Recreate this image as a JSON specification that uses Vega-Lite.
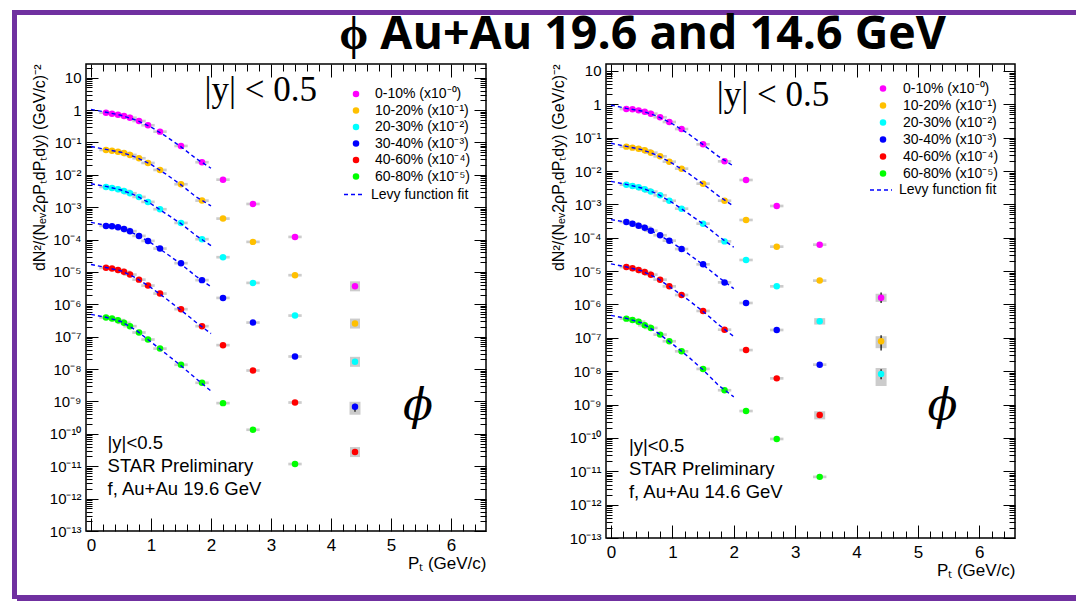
{
"$schema": "https://vega.github.io/schema/vega-lite/v6.json",
"padding": {"left": 12, "top": 10, "right": 0, "bottom": 0},
"background": "white",
"config": {
  "font": "Liberation Sans",
  "view": {"stroke": null},
  "axis": {"domain": false, "grid": false, "tickColor": "black", "tickWidth": 1, "labelColor": "black", "titleColor": "black", "labelFont": "Liberation Sans", "titleFont": "Liberation Sans", "titleFontWeight": "normal", "labelOverlap": false, "labelFlush": false},
  "legend": {"labelFont": "Liberation Sans", "labelColor": "black", "labelFontSize": 14, "padding": 0}
},
"datasets": {
"p19": [
{"pt":0.25,"y":0.83,"c":"0-10% (x10⁻⁰)"},{"pt":0.35,"y":0.774,"c":"0-10% (x10⁻⁰)"},{"pt":0.45,"y":0.72,"c":"0-10% (x10⁻⁰)"},{"pt":0.55,"y":0.66,"c":"0-10% (x10⁻⁰)"},{"pt":0.65,"y":0.58,"c":"0-10% (x10⁻⁰)"},{"pt":0.8,"y":0.46,"c":"0-10% (x10⁻⁰)"},{"pt":0.95,"y":0.34,"c":"0-10% (x10⁻⁰)"},{"pt":1.15,"y":0.216,"c":"0-10% (x10⁻⁰)"},{"pt":1.5,"y":0.078,"c":"0-10% (x10⁻⁰)"},{"pt":1.85,"y":0.0245,"c":"0-10% (x10⁻⁰)"},{"pt":2.2,"y":0.0071,"c":"0-10% (x10⁻⁰)"},{"pt":2.7,"y":0.00126,"c":"0-10% (x10⁻⁰)"},{"pt":3.4,"y":0.000121,"c":"0-10% (x10⁻⁰)"},{"pt":4.4,"y":3.6e-6,"c":"0-10% (x10⁻⁰)"},
{"pt":0.25,"y":0.0587,"c":"10-20% (x10⁻¹)"},{"pt":0.35,"y":0.0558,"c":"10-20% (x10⁻¹)"},{"pt":0.45,"y":0.052,"c":"10-20% (x10⁻¹)"},{"pt":0.55,"y":0.0474,"c":"10-20% (x10⁻¹)"},{"pt":0.65,"y":0.0411,"c":"10-20% (x10⁻¹)"},{"pt":0.8,"y":0.0325,"c":"10-20% (x10⁻¹)"},{"pt":0.95,"y":0.0233,"c":"10-20% (x10⁻¹)"},{"pt":1.15,"y":0.01416,"c":"10-20% (x10⁻¹)"},{"pt":1.5,"y":0.00513,"c":"10-20% (x10⁻¹)"},{"pt":1.85,"y":0.0016,"c":"10-20% (x10⁻¹)"},{"pt":2.2,"y":0.000445,"c":"10-20% (x10⁻¹)"},{"pt":2.7,"y":8.5e-5,"c":"10-20% (x10⁻¹)"},{"pt":3.4,"y":7.96e-6,"c":"10-20% (x10⁻¹)"},{"pt":4.4,"y":2.55e-7,"c":"10-20% (x10⁻¹)"},
{"pt":0.25,"y":0.00423,"c":"20-30% (x10⁻²)"},{"pt":0.35,"y":0.00394,"c":"20-30% (x10⁻²)"},{"pt":0.45,"y":0.00359,"c":"20-30% (x10⁻²)"},{"pt":0.55,"y":0.00318,"c":"20-30% (x10⁻²)"},{"pt":0.65,"y":0.0027,"c":"20-30% (x10⁻²)"},{"pt":0.8,"y":0.00208,"c":"20-30% (x10⁻²)"},{"pt":0.95,"y":0.00146,"c":"20-30% (x10⁻²)"},{"pt":1.15,"y":0.000867,"c":"20-30% (x10⁻²)"},{"pt":1.5,"y":0.000327,"c":"20-30% (x10⁻²)"},{"pt":1.85,"y":0.000103,"c":"20-30% (x10⁻²)"},{"pt":2.2,"y":2.86e-5,"c":"20-30% (x10⁻²)"},{"pt":2.7,"y":4.6e-6,"c":"20-30% (x10⁻²)"},{"pt":3.4,"y":4.5e-7,"c":"20-30% (x10⁻²)"},{"pt":4.4,"y":1.68e-8,"c":"20-30% (x10⁻²)"},
{"pt":0.25,"y":0.000265,"c":"30-40% (x10⁻³)"},{"pt":0.35,"y":0.000258,"c":"30-40% (x10⁻³)"},{"pt":0.45,"y":0.000241,"c":"30-40% (x10⁻³)"},{"pt":0.55,"y":0.000214,"c":"30-40% (x10⁻³)"},{"pt":0.65,"y":0.000182,"c":"30-40% (x10⁻³)"},{"pt":0.8,"y":0.00013,"c":"30-40% (x10⁻³)"},{"pt":0.95,"y":9.1e-5,"c":"30-40% (x10⁻³)"},{"pt":1.15,"y":5.28e-5,"c":"30-40% (x10⁻³)"},{"pt":1.5,"y":1.87e-5,"c":"30-40% (x10⁻³)"},{"pt":1.85,"y":5.6e-6,"c":"30-40% (x10⁻³)"},{"pt":2.2,"y":1.58e-6,"c":"30-40% (x10⁻³)"},{"pt":2.7,"y":2.74e-7,"c":"30-40% (x10⁻³)"},{"pt":3.4,"y":2.45e-8,"c":"30-40% (x10⁻³)"},{"pt":4.4,"y":6.85e-10,"c":"30-40% (x10⁻³)","slo":3.9e-10,"shi":9.8e-10,"lo":4.8e-10,"hi":8.5e-10},
{"pt":0.25,"y":1.34e-5,"c":"40-60% (x10⁻⁴)"},{"pt":0.35,"y":1.27e-5,"c":"40-60% (x10⁻⁴)"},{"pt":0.45,"y":1.16e-5,"c":"40-60% (x10⁻⁴)"},{"pt":0.55,"y":1.01e-5,"c":"40-60% (x10⁻⁴)"},{"pt":0.65,"y":8.3e-6,"c":"40-60% (x10⁻⁴)"},{"pt":0.8,"y":5.8e-6,"c":"40-60% (x10⁻⁴)"},{"pt":0.95,"y":3.8e-6,"c":"40-60% (x10⁻⁴)"},{"pt":1.15,"y":2.15e-6,"c":"40-60% (x10⁻⁴)"},{"pt":1.5,"y":7.1e-7,"c":"40-60% (x10⁻⁴)"},{"pt":1.85,"y":2.12e-7,"c":"40-60% (x10⁻⁴)"},{"pt":2.2,"y":5.5e-8,"c":"40-60% (x10⁻⁴)"},{"pt":2.7,"y":9.05e-9,"c":"40-60% (x10⁻⁴)"},{"pt":3.4,"y":9.3e-10,"c":"40-60% (x10⁻⁴)"},{"pt":4.4,"y":2.74e-11,"c":"40-60% (x10⁻⁴)"},
{"pt":0.25,"y":3.92e-7,"c":"60-80% (x10⁻⁵)"},{"pt":0.35,"y":3.65e-7,"c":"60-80% (x10⁻⁵)"},{"pt":0.45,"y":3.25e-7,"c":"60-80% (x10⁻⁵)"},{"pt":0.55,"y":2.69e-7,"c":"60-80% (x10⁻⁵)"},{"pt":0.65,"y":2.12e-7,"c":"60-80% (x10⁻⁵)"},{"pt":0.8,"y":1.35e-7,"c":"60-80% (x10⁻⁵)"},{"pt":0.95,"y":8.2e-8,"c":"60-80% (x10⁻⁵)"},{"pt":1.15,"y":4.3e-8,"c":"60-80% (x10⁻⁵)"},{"pt":1.5,"y":1.36e-8,"c":"60-80% (x10⁻⁵)"},{"pt":1.85,"y":3.78e-9,"c":"60-80% (x10⁻⁵)"},{"pt":2.2,"y":8.9e-10,"c":"60-80% (x10⁻⁵)"},{"pt":2.7,"y":1.34e-10,"c":"60-80% (x10⁻⁵)"},{"pt":3.4,"y":1.17e-11,"c":"60-80% (x10⁻⁵)"}
],
"p14": [
{"pt":0.25,"y":0.726,"c":"0-10% (x10⁻⁰)"},{"pt":0.35,"y":0.71,"c":"0-10% (x10⁻⁰)"},{"pt":0.45,"y":0.66,"c":"0-10% (x10⁻⁰)"},{"pt":0.55,"y":0.6,"c":"0-10% (x10⁻⁰)"},{"pt":0.65,"y":0.525,"c":"0-10% (x10⁻⁰)"},{"pt":0.8,"y":0.41,"c":"0-10% (x10⁻⁰)"},{"pt":0.95,"y":0.296,"c":"0-10% (x10⁻⁰)"},{"pt":1.15,"y":0.182,"c":"0-10% (x10⁻⁰)"},{"pt":1.5,"y":0.0635,"c":"0-10% (x10⁻⁰)"},{"pt":1.85,"y":0.0196,"c":"0-10% (x10⁻⁰)"},{"pt":2.2,"y":0.0054,"c":"0-10% (x10⁻⁰)"},{"pt":2.7,"y":0.000897,"c":"0-10% (x10⁻⁰)"},{"pt":3.4,"y":6.2e-5,"c":"0-10% (x10⁻⁰)"},{"pt":4.4,"y":1.6e-6,"c":"0-10% (x10⁻⁰)","slo":1.2e-6,"shi":2.1e-6,"lo":1.1e-6,"hi":2.3e-6},
{"pt":0.25,"y":0.054,"c":"10-20% (x10⁻¹)"},{"pt":0.35,"y":0.0504,"c":"10-20% (x10⁻¹)"},{"pt":0.45,"y":0.047,"c":"10-20% (x10⁻¹)"},{"pt":0.55,"y":0.0419,"c":"10-20% (x10⁻¹)"},{"pt":0.65,"y":0.0356,"c":"10-20% (x10⁻¹)"},{"pt":0.8,"y":0.0277,"c":"10-20% (x10⁻¹)"},{"pt":0.95,"y":0.0191,"c":"10-20% (x10⁻¹)"},{"pt":1.15,"y":0.0118,"c":"10-20% (x10⁻¹)"},{"pt":1.5,"y":0.00419,"c":"10-20% (x10⁻¹)"},{"pt":1.85,"y":0.00129,"c":"10-20% (x10⁻¹)"},{"pt":2.2,"y":0.000342,"c":"10-20% (x10⁻¹)"},{"pt":2.7,"y":5.42e-5,"c":"10-20% (x10⁻¹)"},{"pt":3.4,"y":5.2e-6,"c":"10-20% (x10⁻¹)"},{"pt":4.4,"y":7.9e-8,"c":"10-20% (x10⁻¹)","slo":4.9e-8,"shi":1.12e-7,"lo":4.2e-8,"hi":1.19e-7},
{"pt":0.25,"y":0.00391,"c":"20-30% (x10⁻²)"},{"pt":0.35,"y":0.00357,"c":"20-30% (x10⁻²)"},{"pt":0.45,"y":0.00326,"c":"20-30% (x10⁻²)"},{"pt":0.55,"y":0.00284,"c":"20-30% (x10⁻²)"},{"pt":0.65,"y":0.00242,"c":"20-30% (x10⁻²)"},{"pt":0.8,"y":0.00188,"c":"20-30% (x10⁻²)"},{"pt":0.95,"y":0.00129,"c":"20-30% (x10⁻²)"},{"pt":1.15,"y":0.000745,"c":"20-30% (x10⁻²)"},{"pt":1.5,"y":0.000265,"c":"20-30% (x10⁻²)"},{"pt":1.85,"y":7.8e-5,"c":"20-30% (x10⁻²)"},{"pt":2.2,"y":2.16e-5,"c":"20-30% (x10⁻²)"},{"pt":2.7,"y":3.5e-6,"c":"20-30% (x10⁻²)"},{"pt":3.4,"y":3.14e-7,"c":"20-30% (x10⁻²)","slo":2.5e-7,"shi":3.9e-7},{"pt":4.4,"y":8.3e-9,"c":"20-30% (x10⁻²)","slo":3.6e-9,"shi":1.25e-8,"lo":5.7e-9,"hi":1.14e-8},
{"pt":0.25,"y":0.000298,"c":"30-40% (x10⁻³)"},{"pt":0.35,"y":0.000265,"c":"30-40% (x10⁻³)"},{"pt":0.45,"y":0.000231,"c":"30-40% (x10⁻³)"},{"pt":0.55,"y":0.000201,"c":"30-40% (x10⁻³)"},{"pt":0.65,"y":0.000163,"c":"30-40% (x10⁻³)"},{"pt":0.8,"y":0.000119,"c":"30-40% (x10⁻³)"},{"pt":0.95,"y":8.2e-5,"c":"30-40% (x10⁻³)"},{"pt":1.15,"y":4.6e-5,"c":"30-40% (x10⁻³)"},{"pt":1.5,"y":1.6e-5,"c":"30-40% (x10⁻³)"},{"pt":1.85,"y":4.6e-6,"c":"30-40% (x10⁻³)"},{"pt":2.2,"y":1.11e-6,"c":"30-40% (x10⁻³)"},{"pt":2.7,"y":1.72e-7,"c":"30-40% (x10⁻³)"},{"pt":3.4,"y":1.57e-8,"c":"30-40% (x10⁻³)"},
{"pt":0.25,"y":1.33e-5,"c":"40-60% (x10⁻⁴)"},{"pt":0.35,"y":1.22e-5,"c":"40-60% (x10⁻⁴)"},{"pt":0.45,"y":1.08e-5,"c":"40-60% (x10⁻⁴)"},{"pt":0.55,"y":9.4e-6,"c":"40-60% (x10⁻⁴)"},{"pt":0.65,"y":7.85e-6,"c":"40-60% (x10⁻⁴)"},{"pt":0.8,"y":5.55e-6,"c":"40-60% (x10⁻⁴)"},{"pt":0.95,"y":3.5e-6,"c":"40-60% (x10⁻⁴)"},{"pt":1.15,"y":1.93e-6,"c":"40-60% (x10⁻⁴)"},{"pt":1.5,"y":6.4e-7,"c":"40-60% (x10⁻⁴)"},{"pt":1.85,"y":1.76e-7,"c":"40-60% (x10⁻⁴)"},{"pt":2.2,"y":4.3e-8,"c":"40-60% (x10⁻⁴)"},{"pt":2.7,"y":6.1e-9,"c":"40-60% (x10⁻⁴)"},{"pt":3.4,"y":4.9e-10,"c":"40-60% (x10⁻⁴)","slo":3.6e-10,"shi":6.3e-10},
{"pt":0.25,"y":3.77e-7,"c":"60-80% (x10⁻⁵)"},{"pt":0.35,"y":3.44e-7,"c":"60-80% (x10⁻⁵)"},{"pt":0.45,"y":3.06e-7,"c":"60-80% (x10⁻⁵)"},{"pt":0.55,"y":2.38e-7,"c":"60-80% (x10⁻⁵)"},{"pt":0.65,"y":1.98e-7,"c":"60-80% (x10⁻⁵)"},{"pt":0.8,"y":1.25e-7,"c":"60-80% (x10⁻⁵)"},{"pt":0.95,"y":7.9e-8,"c":"60-80% (x10⁻⁵)"},{"pt":1.15,"y":3.95e-8,"c":"60-80% (x10⁻⁵)"},{"pt":1.5,"y":1.17e-8,"c":"60-80% (x10⁻⁵)"},{"pt":1.85,"y":2.69e-9,"c":"60-80% (x10⁻⁵)"},{"pt":2.2,"y":6.4e-10,"c":"60-80% (x10⁻⁵)"},{"pt":2.7,"y":9.3e-11,"c":"60-80% (x10⁻⁵)"},{"pt":3.4,"y":6.8e-12,"c":"60-80% (x10⁻⁵)"}
],
"f19": [
{"pt":0,"y":1.05,"c":"a"},{"pt":0.25,"y":0.86,"c":"a"},{"pt":0.5,"y":0.69,"c":"a"},{"pt":0.75,"y":0.49,"c":"a"},{"pt":1,"y":0.3,"c":"a"},{"pt":1.25,"y":0.155,"c":"a"},{"pt":1.5,"y":0.073,"c":"a"},{"pt":1.75,"y":0.032,"c":"a"},{"pt":2,"y":0.016,"c":"a"},
{"pt":0,"y":0.075,"c":"b"},{"pt":0.25,"y":0.061,"c":"b"},{"pt":0.5,"y":0.05,"c":"b"},{"pt":0.75,"y":0.035,"c":"b"},{"pt":1,"y":0.021,"c":"b"},{"pt":1.25,"y":0.0105,"c":"b"},{"pt":1.5,"y":0.0049,"c":"b"},{"pt":1.75,"y":0.0021,"c":"b"},{"pt":2,"y":0.0011,"c":"b"},
{"pt":0,"y":0.0053,"c":"c"},{"pt":0.25,"y":0.0044,"c":"c"},{"pt":0.5,"y":0.0034,"c":"c"},{"pt":0.75,"y":0.0023,"c":"c"},{"pt":1,"y":0.00128,"c":"c"},{"pt":1.25,"y":0.00063,"c":"c"},{"pt":1.5,"y":0.00031,"c":"c"},{"pt":1.75,"y":0.000134,"c":"c"},{"pt":2,"y":6.5e-5,"c":"c"},
{"pt":0,"y":0.00034,"c":"d"},{"pt":0.25,"y":0.000275,"c":"d"},{"pt":0.5,"y":0.00023,"c":"d"},{"pt":0.75,"y":0.000145,"c":"d"},{"pt":1,"y":7.9e-5,"c":"d"},{"pt":1.25,"y":3.8e-5,"c":"d"},{"pt":1.5,"y":1.75e-5,"c":"d"},{"pt":1.75,"y":7.4e-6,"c":"d"},{"pt":2,"y":3.5e-6,"c":"d"},
{"pt":0,"y":1.7e-5,"c":"e"},{"pt":0.25,"y":1.38e-5,"c":"e"},{"pt":0.5,"y":1.08e-5,"c":"e"},{"pt":0.75,"y":6.6e-6,"c":"e"},{"pt":1,"y":3.27e-6,"c":"e"},{"pt":1.25,"y":1.5e-6,"c":"e"},{"pt":1.5,"y":6.6e-7,"c":"e"},{"pt":1.75,"y":2.8e-7,"c":"e"},{"pt":2,"y":1.25e-7,"c":"e"},
{"pt":0,"y":4.9e-7,"c":"f"},{"pt":0.25,"y":4.0e-7,"c":"f"},{"pt":0.5,"y":2.95e-7,"c":"f"},{"pt":0.75,"y":1.6e-7,"c":"f"},{"pt":1,"y":6.9e-8,"c":"f"},{"pt":1.25,"y":2.97e-8,"c":"f"},{"pt":1.5,"y":1.27e-8,"c":"f"},{"pt":1.75,"y":5.1e-9,"c":"f"},{"pt":2,"y":2.1e-9,"c":"f"}
],
"f14": [
{"pt":0,"y":0.95,"c":"a"},{"pt":0.25,"y":0.76,"c":"a"},{"pt":0.5,"y":0.63,"c":"a"},{"pt":0.75,"y":0.445,"c":"a"},{"pt":1,"y":0.262,"c":"a"},{"pt":1.25,"y":0.135,"c":"a"},{"pt":1.5,"y":0.062,"c":"a"},{"pt":1.75,"y":0.0275,"c":"a"},{"pt":2,"y":0.014,"c":"a"},
{"pt":0,"y":0.068,"c":"b"},{"pt":0.25,"y":0.055,"c":"b"},{"pt":0.5,"y":0.044,"c":"b"},{"pt":0.75,"y":0.03,"c":"b"},{"pt":1,"y":0.017,"c":"b"},{"pt":1.25,"y":0.0088,"c":"b"},{"pt":1.5,"y":0.0041,"c":"b"},{"pt":1.75,"y":0.0018,"c":"b"},{"pt":2,"y":0.00088,"c":"b"},
{"pt":0,"y":0.0049,"c":"c"},{"pt":0.25,"y":0.004,"c":"c"},{"pt":0.5,"y":0.0031,"c":"c"},{"pt":0.75,"y":0.0021,"c":"c"},{"pt":1,"y":0.00113,"c":"c"},{"pt":1.25,"y":0.00055,"c":"c"},{"pt":1.5,"y":0.00026,"c":"c"},{"pt":1.75,"y":0.000111,"c":"c"},{"pt":2,"y":5.2e-5,"c":"c"},
{"pt":0,"y":0.00035,"c":"d"},{"pt":0.25,"y":0.000295,"c":"d"},{"pt":0.5,"y":0.00022,"c":"d"},{"pt":0.75,"y":0.000132,"c":"d"},{"pt":1,"y":7.1e-5,"c":"d"},{"pt":1.25,"y":3.4e-5,"c":"d"},{"pt":1.5,"y":1.55e-5,"c":"d"},{"pt":1.75,"y":6.6e-6,"c":"d"},{"pt":2,"y":3.0e-6,"c":"d"},
{"pt":0,"y":1.65e-5,"c":"e"},{"pt":0.25,"y":1.34e-5,"c":"e"},{"pt":0.5,"y":1.02e-5,"c":"e"},{"pt":0.75,"y":6.2e-6,"c":"e"},{"pt":1,"y":3.0e-6,"c":"e"},{"pt":1.25,"y":1.41e-6,"c":"e"},{"pt":1.5,"y":6.2e-7,"c":"e"},{"pt":1.75,"y":2.5e-7,"c":"e"},{"pt":2,"y":1.1e-7,"c":"e"},
{"pt":0,"y":4.7e-7,"c":"f"},{"pt":0.25,"y":3.85e-7,"c":"f"},{"pt":0.5,"y":2.8e-7,"c":"f"},{"pt":0.75,"y":1.46e-7,"c":"f"},{"pt":1,"y":6.6e-8,"c":"f"},{"pt":1.25,"y":2.8e-8,"c":"f"},{"pt":1.5,"y":1.1e-8,"c":"f"},{"pt":1.75,"y":3.8e-9,"c":"f"},{"pt":2,"y":1.7e-9,"c":"f"}
]
},
"spacing": 0,
"align": "each",
"hconcat": [
  {"width": 5, "height": 589, "view": {"fill": "#7030a0", "stroke": null}, "data": {"values": []}, "mark": "point"},
  {"spacing": -3, "align": "each", "vconcat": [
    {"width": 1059, "height": 5, "view": {"fill": "#7030a0", "stroke": null}, "data": {"values": []}, "mark": "point"},
    {"title": {"text": "ϕ Au+Au 19.6 and 14.6 GeV", "font": "Open Sans", "fontSize": 46.5, "fontWeight": "bold", "color": "black", "anchor": "middle", "dx": 126, "offset": 4},
     "spacing": 12, "align": "each",
     "hconcat": [
      {"width": 1, "height": 1, "data": {"values": []}, "mark": "point"},
      {"spacing": 61, "align": "each",
       "resolve": {"scale": {"color": "independent", "strokeDash": "independent"}, "legend": {"color": "independent", "strokeDash": "independent"}},
       "hconcat": [
        {"width": 400, "height": 467,
         "view": {"stroke": "black", "strokeWidth": 1.5},
         "resolve": {"axis": {"x": "independent", "y": "independent"}},
         "layer": [
          {"data": {"name": "p19"}, "transform": [{"filter": "datum.pt < 4 && !isValid(datum.slo)"}],
           "mark": {"type": "point", "shape": "M-1,-0.2H1V0.2H-1Z", "filled": true, "color": "#cccccc", "opacity": 1, "size": 180},
           "encoding": {
             "x": {"field": "pt", "type": "quantitative", "scale": {"domain": [0, 6.5], "nice": false, "zero": false},
                   "axis": {"orient": "bottom", "values": [0,1,2,3,4,5,6], "tickSize": -13, "labelPadding": 19, "labelFontSize": 17, "format": "d", "title": "Pₜ (GeV/c)", "titleFontSize": 17, "titleAnchor": "end", "titlePadding": 2}},
             "y": {"field": "y", "type": "quantitative", "scale": {"type": "log", "domain": [1e-13, 26.5], "nice": false},
                   "axis": {"orient": "left", "values": [1e-13,1e-12,1e-11,1e-10,1e-9,1e-8,1e-7,1e-6,1e-5,1e-4,0.001,0.01,0.1,1,10], "tickSize": -12, "labelPadding": 17, "labelFontSize": 15,
                            "labelExpr": "datum.value > 5 ? '10' : datum.value > 0.5 ? '1' : '10' + ['','⁻¹','⁻²','⁻³','⁻⁴','⁻⁵','⁻⁶','⁻⁷','⁻⁸','⁻⁹','⁻¹⁰','⁻¹¹','⁻¹²','⁻¹³'][round(-log(datum.value)/LN10)]",
                            "title": "dN²/(Nₑᵥ2ρPₜdPₜdy) (GeV/c)⁻²", "titleFontSize": 16, "titleAnchor": "end", "titlePadding": 2}}
           }},
          {"data": {"name": "p19"}, "transform": [{"filter": "datum.pt > 4 && !isValid(datum.slo)"}],
           "mark": {"type": "square", "filled": true, "color": "#cccccc", "opacity": 1, "size": 100},
           "encoding": {
             "x": {"field": "pt", "type": "quantitative", "scale": {"domain": [0, 6.5], "nice": false, "zero": false},
                   "axis": {"orient": "top", "values": [0,1,2,3,4,5,6], "tickSize": -13, "labels": false, "title": null}},
             "y": {"field": "y", "type": "quantitative", "scale": {"type": "log", "domain": [1e-13, 26.5], "nice": false},
                   "axis": {"orient": "right", "values": [1e-13,1e-12,1e-11,1e-10,1e-9,1e-8,1e-7,1e-6,1e-5,1e-4,0.001,0.01,0.1,1,10], "tickSize": -12, "labels": false, "title": null}}
           }},
          {"data": {"name": "p19"}, "transform": [{"filter": "isValid(datum.slo)"}],
           "mark": {"type": "bar", "color": "#cccccc", "size": 11},
           "encoding": {
             "x": {"field": "pt", "type": "quantitative", "scale": {"domain": [0, 6.5], "nice": false, "zero": false}, "axis": null},
             "y": {"field": "slo", "type": "quantitative", "scale": {"type": "log", "domain": [1e-13, 26.5], "nice": false}, "axis": null},
             "y2": {"field": "shi"}
           }},
          {"data": {"name": "p19"}, "transform": [{"filter": "isValid(datum.lo)"}],
           "mark": {"type": "rule", "color": "black", "strokeWidth": 1.2},
           "encoding": {
             "x": {"field": "pt", "type": "quantitative", "scale": {"domain": [0, 6.5], "nice": false, "zero": false}, "axis": null},
             "y": {"field": "lo", "type": "quantitative", "scale": {"type": "log", "domain": [1e-13, 26.5], "nice": false}, "axis": null},
             "y2": {"field": "hi"}
           }},
          {"data": {"name": "p19"},
           "mark": {"type": "circle", "size": 42, "opacity": 1},
           "encoding": {
             "x": {"field": "pt", "type": "quantitative", "scale": {"domain": [0, 6.5], "nice": false, "zero": false},
                   "axis": {"orient": "bottom", "values": [0.2,0.4,0.6,0.8,1.2,1.4,1.6,1.8,2.2,2.4,2.6,2.8,3.2,3.4,3.6,3.8,4.2,4.4,4.6,4.8,5.2,5.4,5.6,5.8,6.2,6.4], "tickSize": -7, "labels": false, "title": null}},
             "y": {"field": "y", "type": "quantitative", "scale": {"type": "log", "domain": [1e-13, 26.5], "nice": false},
                   "axis": {"orient": "left", "values": [2e-13,3e-13,4e-13,5e-13,6e-13,7e-13,8e-13,9e-13,2e-12,3e-12,4e-12,5e-12,6e-12,7e-12,8e-12,9e-12,2e-11,3e-11,4e-11,5e-11,6e-11,7e-11,8e-11,9e-11,2e-10,3e-10,4e-10,5e-10,6e-10,7e-10,8e-10,9e-10,2e-9,3e-9,4e-9,5e-9,6e-9,7e-9,8e-9,9e-9,2e-8,3e-8,4e-8,5e-8,6e-8,7e-8,8e-8,9e-8,2e-7,3e-7,4e-7,5e-7,6e-7,7e-7,8e-7,9e-7,2e-6,3e-6,4e-6,5e-6,6e-6,7e-6,8e-6,9e-6,2e-5,3e-5,4e-5,5e-5,6e-5,7e-5,8e-5,9e-5,0.0002,0.0003,0.0004,0.0005,0.0006,0.0007,0.0008,0.0009,0.002,0.003,0.004,0.005,0.006,0.007,0.008,0.009,0.02,0.03,0.04,0.05,0.06,0.07,0.08,0.09,0.2,0.3,0.4,0.5,0.6,0.7,0.8,0.9,2,3,4,5,6,7,8,9,20], "tickSize": -6, "labels": false, "title": null}},
             "color": {"field": "c", "type": "nominal",
                       "scale": {"domain": ["0-10% (x10⁻⁰)","10-20% (x10⁻¹)","20-30% (x10⁻²)","30-40% (x10⁻³)","40-60% (x10⁻⁴)","60-80% (x10⁻⁵)"], "range": ["#ff00ff","#ffc000","#00ffff","#0000ff","#ff0000","#00ff00"]},
                       "legend": {"orient": "none", "legendX": 263, "legendY": 23, "title": null, "symbolType": "circle", "symbolSize": 42, "symbolStrokeWidth": 0, "labelOffset": 12, "rowPadding": 2.5, "labelFontSize": 14}}
           }},
          {"data": {"name": "f19"},
           "mark": {"type": "line", "color": "#0000ff", "strokeWidth": 1.4},
           "encoding": {
             "x": {"field": "pt", "type": "quantitative", "scale": {"domain": [0, 6.5], "nice": false, "zero": false},
                   "axis": {"orient": "top", "values": [0.2,0.4,0.6,0.8,1.2,1.4,1.6,1.8,2.2,2.4,2.6,2.8,3.2,3.4,3.6,3.8,4.2,4.4,4.6,4.8,5.2,5.4,5.6,5.8,6.2,6.4], "tickSize": -7, "labels": false, "title": null}},
             "y": {"field": "y", "type": "quantitative", "scale": {"type": "log", "domain": [1e-13, 26.5], "nice": false},
                   "axis": {"orient": "right", "values": [2e-13,3e-13,4e-13,5e-13,6e-13,7e-13,8e-13,9e-13,2e-12,3e-12,4e-12,5e-12,6e-12,7e-12,8e-12,9e-12,2e-11,3e-11,4e-11,5e-11,6e-11,7e-11,8e-11,9e-11,2e-10,3e-10,4e-10,5e-10,6e-10,7e-10,8e-10,9e-10,2e-9,3e-9,4e-9,5e-9,6e-9,7e-9,8e-9,9e-9,2e-8,3e-8,4e-8,5e-8,6e-8,7e-8,8e-8,9e-8,2e-7,3e-7,4e-7,5e-7,6e-7,7e-7,8e-7,9e-7,2e-6,3e-6,4e-6,5e-6,6e-6,7e-6,8e-6,9e-6,2e-5,3e-5,4e-5,5e-5,6e-5,7e-5,8e-5,9e-5,0.0002,0.0003,0.0004,0.0005,0.0006,0.0007,0.0008,0.0009,0.002,0.003,0.004,0.005,0.006,0.007,0.008,0.009,0.02,0.03,0.04,0.05,0.06,0.07,0.08,0.09,0.2,0.3,0.4,0.5,0.6,0.7,0.8,0.9,2,3,4,5,6,7,8,9,20], "tickSize": -6, "labels": false, "title": null}},
             "detail": {"field": "c", "type": "nominal"},
             "strokeDash": {"datum": "Levy function fit", "scale": {"range": [[4, 3]]},
                            "legend": {"orient": "none", "legendX": 257, "legendY": 119, "title": null, "symbolType": "stroke", "symbolSize": 441, "symbolStrokeColor": "#0000ff", "symbolStrokeWidth": 1.4, "labelOffset": 5, "labelFontSize": 14}}
           }},
          {"data": {"values": [{}]},
           "mark": {"type": "text", "text": "|y| < 0.5", "font": "Liberation Serif", "fontSize": 35, "align": "center", "baseline": "middle", "color": "black"},
           "encoding": {
             "x": {"datum": 2.83, "type": "quantitative", "scale": {"domain": [0, 6.5], "nice": false, "zero": false}, "axis": null},
             "y": {"datum": 4.17, "type": "quantitative", "scale": {"type": "log", "domain": [1e-13, 26.5], "nice": false}, "axis": null}
           }},
          {"data": {"values": [{}]},
           "mark": {"type": "text", "text": "ϕ", "font": "DejaVu Serif", "fontStyle": "italic", "fontSize": 44, "align": "center", "baseline": "middle", "color": "black"},
           "encoding": {
             "x": {"datum": 5.45, "type": "quantitative", "scale": {"domain": [0, 6.5], "nice": false, "zero": false}, "axis": null},
             "y": {"datum": 6.85e-10, "type": "quantitative", "scale": {"type": "log", "domain": [1e-13, 26.5], "nice": false}, "axis": null}
           }},
          {"data": {"values": [{}]},
           "mark": {"type": "text", "text": ["|y|<0.5", "STAR Preliminary", "f, Au+Au 19.6 GeV"], "fontSize": 18.5, "lineHeight": 23, "align": "left", "baseline": "middle", "color": "black"},
           "encoding": {
             "x": {"datum": 0.276, "type": "quantitative", "scale": {"domain": [0, 6.5], "nice": false, "zero": false}, "axis": null},
             "y": {"datum": 5.06e-11, "type": "quantitative", "scale": {"type": "log", "domain": [1e-13, 26.5], "nice": false}, "axis": null}
           }}
         ]
        },
        {"width": 409, "height": 474,
         "view": {"stroke": "black", "strokeWidth": 1.5},
         "resolve": {"axis": {"x": "independent", "y": "independent"}},
         "layer": [
          {"data": {"name": "p14"}, "transform": [{"filter": "datum.pt < 4 && !isValid(datum.slo)"}],
           "mark": {"type": "point", "shape": "M-1,-0.2H1V0.2H-1Z", "filled": true, "color": "#cccccc", "opacity": 1, "size": 180},
           "encoding": {
             "x": {"field": "pt", "type": "quantitative", "scale": {"domain": [0, 6.5], "nice": false, "zero": false},
                   "axis": {"orient": "bottom", "values": [0,1,2,3,4,5,6], "tickSize": -13, "labelPadding": 19, "labelFontSize": 17, "format": "d", "title": "Pₜ (GeV/c)", "titleFontSize": 17, "titleAnchor": "end", "titlePadding": 2}},
             "y": {"field": "y", "type": "quantitative", "scale": {"type": "log", "domain": [1e-13, 16.2], "nice": false},
                   "axis": {"orient": "left", "values": [1e-13,1e-12,1e-11,1e-10,1e-9,1e-8,1e-7,1e-6,1e-5,1e-4,0.001,0.01,0.1,1,10], "tickSize": -12, "labelPadding": 17, "labelFontSize": 15,
                            "labelExpr": "datum.value > 5 ? '10' : datum.value > 0.5 ? '1' : '10' + ['','⁻¹','⁻²','⁻³','⁻⁴','⁻⁵','⁻⁶','⁻⁷','⁻⁸','⁻⁹','⁻¹⁰','⁻¹¹','⁻¹²','⁻¹³'][round(-log(datum.value)/LN10)]",
                            "title": "dN²/(Nₑᵥ2ρPₜdPₜdy) (GeV/c)⁻²", "titleFontSize": 16, "titleAnchor": "end", "titlePadding": 3}}
           }},
          {"data": {"name": "p14"}, "transform": [{"filter": "datum.pt > 4 && !isValid(datum.slo)"}],
           "mark": {"type": "square", "filled": true, "color": "#cccccc", "opacity": 1, "size": 100},
           "encoding": {
             "x": {"field": "pt", "type": "quantitative", "scale": {"domain": [0, 6.5], "nice": false, "zero": false},
                   "axis": {"orient": "top", "values": [0,1,2,3,4,5,6], "tickSize": -13, "labels": false, "title": null}},
             "y": {"field": "y", "type": "quantitative", "scale": {"type": "log", "domain": [1e-13, 16.2], "nice": false},
                   "axis": {"orient": "right", "values": [1e-13,1e-12,1e-11,1e-10,1e-9,1e-8,1e-7,1e-6,1e-5,1e-4,0.001,0.01,0.1,1,10], "tickSize": -12, "labels": false, "title": null}}
           }},
          {"data": {"name": "p14"}, "transform": [{"filter": "isValid(datum.slo)"}],
           "mark": {"type": "bar", "color": "#cccccc", "size": 11},
           "encoding": {
             "x": {"field": "pt", "type": "quantitative", "scale": {"domain": [0, 6.5], "nice": false, "zero": false}, "axis": null},
             "y": {"field": "slo", "type": "quantitative", "scale": {"type": "log", "domain": [1e-13, 16.2], "nice": false}, "axis": null},
             "y2": {"field": "shi"}
           }},
          {"data": {"name": "p14"}, "transform": [{"filter": "isValid(datum.lo)"}],
           "mark": {"type": "rule", "color": "black", "strokeWidth": 1.2},
           "encoding": {
             "x": {"field": "pt", "type": "quantitative", "scale": {"domain": [0, 6.5], "nice": false, "zero": false}, "axis": null},
             "y": {"field": "lo", "type": "quantitative", "scale": {"type": "log", "domain": [1e-13, 16.2], "nice": false}, "axis": null},
             "y2": {"field": "hi"}
           }},
          {"data": {"name": "p14"},
           "mark": {"type": "circle", "size": 42, "opacity": 1},
           "encoding": {
             "x": {"field": "pt", "type": "quantitative", "scale": {"domain": [0, 6.5], "nice": false, "zero": false},
                   "axis": {"orient": "bottom", "values": [0.2,0.4,0.6,0.8,1.2,1.4,1.6,1.8,2.2,2.4,2.6,2.8,3.2,3.4,3.6,3.8,4.2,4.4,4.6,4.8,5.2,5.4,5.6,5.8,6.2,6.4], "tickSize": -7, "labels": false, "title": null}},
             "y": {"field": "y", "type": "quantitative", "scale": {"type": "log", "domain": [1e-13, 16.2], "nice": false},
                   "axis": {"orient": "left", "values": [2e-13,3e-13,4e-13,5e-13,6e-13,7e-13,8e-13,9e-13,2e-12,3e-12,4e-12,5e-12,6e-12,7e-12,8e-12,9e-12,2e-11,3e-11,4e-11,5e-11,6e-11,7e-11,8e-11,9e-11,2e-10,3e-10,4e-10,5e-10,6e-10,7e-10,8e-10,9e-10,2e-9,3e-9,4e-9,5e-9,6e-9,7e-9,8e-9,9e-9,2e-8,3e-8,4e-8,5e-8,6e-8,7e-8,8e-8,9e-8,2e-7,3e-7,4e-7,5e-7,6e-7,7e-7,8e-7,9e-7,2e-6,3e-6,4e-6,5e-6,6e-6,7e-6,8e-6,9e-6,2e-5,3e-5,4e-5,5e-5,6e-5,7e-5,8e-5,9e-5,0.0002,0.0003,0.0004,0.0005,0.0006,0.0007,0.0008,0.0009,0.002,0.003,0.004,0.005,0.006,0.007,0.008,0.009,0.02,0.03,0.04,0.05,0.06,0.07,0.08,0.09,0.2,0.3,0.4,0.5,0.6,0.7,0.8,0.9,2,3,4,5,6,7,8,9], "tickSize": -6, "labels": false, "title": null}},
             "color": {"field": "c", "type": "nominal",
                       "scale": {"domain": ["0-10% (x10⁻⁰)","10-20% (x10⁻¹)","20-30% (x10⁻²)","30-40% (x10⁻³)","40-60% (x10⁻⁴)","60-80% (x10⁻⁵)"], "range": ["#ff00ff","#ffc000","#00ffff","#0000ff","#ff0000","#00ff00"]},
                       "legend": {"orient": "none", "legendX": 270, "legendY": 17.5, "title": null, "symbolType": "circle", "symbolSize": 42, "symbolStrokeWidth": 0, "labelOffset": 13, "rowPadding": 3, "labelFontSize": 14}}
           }},
          {"data": {"name": "f14"},
           "mark": {"type": "line", "color": "#0000ff", "strokeWidth": 1.4},
           "encoding": {
             "x": {"field": "pt", "type": "quantitative", "scale": {"domain": [0, 6.5], "nice": false, "zero": false},
                   "axis": {"orient": "top", "values": [0.2,0.4,0.6,0.8,1.2,1.4,1.6,1.8,2.2,2.4,2.6,2.8,3.2,3.4,3.6,3.8,4.2,4.4,4.6,4.8,5.2,5.4,5.6,5.8,6.2,6.4], "tickSize": -7, "labels": false, "title": null}},
             "y": {"field": "y", "type": "quantitative", "scale": {"type": "log", "domain": [1e-13, 16.2], "nice": false},
                   "axis": {"orient": "right", "values": [2e-13,3e-13,4e-13,5e-13,6e-13,7e-13,8e-13,9e-13,2e-12,3e-12,4e-12,5e-12,6e-12,7e-12,8e-12,9e-12,2e-11,3e-11,4e-11,5e-11,6e-11,7e-11,8e-11,9e-11,2e-10,3e-10,4e-10,5e-10,6e-10,7e-10,8e-10,9e-10,2e-9,3e-9,4e-9,5e-9,6e-9,7e-9,8e-9,9e-9,2e-8,3e-8,4e-8,5e-8,6e-8,7e-8,8e-8,9e-8,2e-7,3e-7,4e-7,5e-7,6e-7,7e-7,8e-7,9e-7,2e-6,3e-6,4e-6,5e-6,6e-6,7e-6,8e-6,9e-6,2e-5,3e-5,4e-5,5e-5,6e-5,7e-5,8e-5,9e-5,0.0002,0.0003,0.0004,0.0005,0.0006,0.0007,0.0008,0.0009,0.002,0.003,0.004,0.005,0.006,0.007,0.008,0.009,0.02,0.03,0.04,0.05,0.06,0.07,0.08,0.09,0.2,0.3,0.4,0.5,0.6,0.7,0.8,0.9,2,3,4,5,6,7,8,9], "tickSize": -6, "labels": false, "title": null}},
             "detail": {"field": "c", "type": "nominal"},
             "strokeDash": {"datum": "Levy function fit", "scale": {"range": [[4, 3]]},
                            "legend": {"orient": "none", "legendX": 263, "legendY": 114, "title": null, "symbolType": "stroke", "symbolSize": 484, "symbolStrokeColor": "#0000ff", "symbolStrokeWidth": 1.4, "labelOffset": 6, "labelFontSize": 14}}
           }},
          {"data": {"values": [{}]},
           "mark": {"type": "text", "text": "|y| < 0.5", "font": "Liberation Serif", "fontSize": 35, "align": "center", "baseline": "middle", "color": "black"},
           "encoding": {
             "x": {"datum": 2.64, "type": "quantitative", "scale": {"domain": [0, 6.5], "nice": false, "zero": false}, "axis": null},
             "y": {"datum": 1.91, "type": "quantitative", "scale": {"type": "log", "domain": [1e-13, 16.2], "nice": false}, "axis": null}
           }},
          {"data": {"values": [{}]},
           "mark": {"type": "text", "text": "ϕ", "font": "DejaVu Serif", "fontStyle": "italic", "fontSize": 44, "align": "center", "baseline": "middle", "color": "black"},
           "encoding": {
             "x": {"datum": 5.4, "type": "quantitative", "scale": {"domain": [0, 6.5], "nice": false, "zero": false}, "axis": null},
             "y": {"datum": 8.5e-10, "type": "quantitative", "scale": {"type": "log", "domain": [1e-13, 16.2], "nice": false}, "axis": null}
           }},
          {"data": {"values": [{}]},
           "mark": {"type": "text", "text": ["|y|<0.5", "STAR Preliminary", "f, Au+Au 14.6 GeV"], "fontSize": 18.5, "lineHeight": 23, "align": "left", "baseline": "middle", "color": "black"},
           "encoding": {
             "x": {"datum": 0.292, "type": "quantitative", "scale": {"domain": [0, 6.5], "nice": false, "zero": false}, "axis": null},
             "y": {"datum": 5.75e-11, "type": "quantitative", "scale": {"type": "log", "domain": [1e-13, 16.2], "nice": false}, "axis": null}
           }}
         ]
        }
       ]
      }
     ]
    },
    {"width": 1, "height": 16, "data": {"values": []}, "mark": "point"},
    {"width": 1059, "height": 6, "view": {"fill": "#7030a0", "stroke": null}, "data": {"values": []}, "mark": "point"}
  ]}
]
}
